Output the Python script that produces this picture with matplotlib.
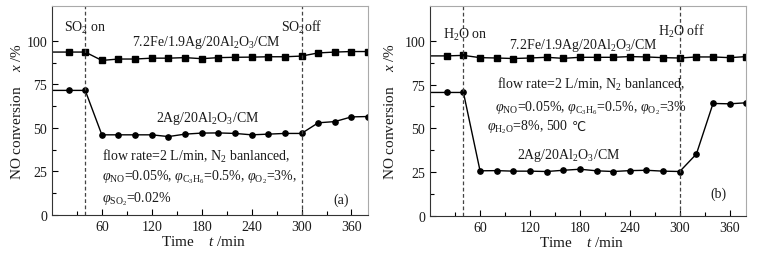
import numpy as np
import matplotlib
matplotlib.use('Agg')
import matplotlib.pyplot as plt

# Time axis, min
time = [0, 20, 40, 60, 80, 100, 120, 140, 160, 180, 200, 220, 240, 260, 280,
        300, 320, 340, 360, 380]

# (a) SO2 poisoning
fe_a = [93.5, 93.5, 93.5, 88.7, 89.5, 89.5, 90.0, 90.0, 90.3, 89.7, 90.3, 90.5,
        90.6, 90.8, 90.8, 91.2, 93.0, 93.5, 93.8, 93.8]
ag_a = [71.5, 71.5, 71.5, 46.0, 46.0, 46.0, 46.0, 45.0, 46.4, 47.0, 47.1, 46.8,
        46.0, 46.4, 46.8, 46.8, 52.9, 53.6, 56.3, 56.5]

# (b) H2O poisoning
fe_b = [91.4, 91.4, 91.7, 90.4, 90.2, 89.9, 90.2, 90.6, 90.0, 90.6, 90.6, 90.6,
        91.0, 90.8, 90.4, 90.2, 90.8, 90.8, 90.4, 91.0]
ag_b = [70.5, 70.5, 70.5, 25.7, 25.8, 25.5, 25.5, 25.3, 26.0, 26.6, 25.7, 25.3,
        25.8, 26.0, 25.5, 25.3, 35.3, 64.2, 64.0, 64.6]

switch_on = 40
switch_off = 300

plt.rcParams['font.family'] = ['Liberation Serif', 'DejaVu Sans']
plt.rcParams['mathtext.fontset'] = 'custom'
plt.rcParams['mathtext.rm'] = 'Liberation Serif'
plt.rcParams['mathtext.it'] = 'Liberation Serif:italic'
plt.rcParams['font.size'] = 10
txtc = '#1a1a1a'

fig = plt.figure(figsize=(7.75, 2.55), dpi=100)
axa = fig.add_axes([0.067, 0.153, 0.408, 0.820])
axb = fig.add_axes([0.555, 0.150, 0.408, 0.823])


def style_axis(ax, ylx):
    ax.set_xlim(0, 380)
    ax.set_ylim(0, 120)
    ax.set_xticks([60, 120, 180, 240, 300, 360])
    ax.set_xticks([30, 90, 150, 210, 270, 330], minor=True)
    ax.set_yticks([0, 25, 50, 75, 100])
    ax.set_yticks([12.5, 37.5, 62.5, 87.5], minor=True)
    ax.tick_params(which='both', direction='in', top=False, right=False,
                   labelcolor=txtc, width=0.8, labelsize=10)
    ax.tick_params(which='major', length=4)
    ax.tick_params(which='minor', length=3)
    for s in ['top', 'right']:
        ax.spines[s].set_color('#aaaaaa')
    for s in ['left', 'bottom']:
        ax.spines[s].set_color('#333333')
    ax.set_ylabel(r'NO conversion    $x$ /%', color=txtc, fontsize=11)
    ax.set_xlabel(r'Time    $t$ /min', color=txtc, fontsize=11)
    ax.yaxis.set_label_coords(ylx, 0.5)
    ax.xaxis.set_label_coords(0.48, -0.09)
    ax.axvline(switch_on, color='#444444', ls=(0, (3, 2)), lw=0.9)
    ax.axvline(switch_off, color='#444444', ls=(0, (3, 2)), lw=0.9)


for ax, fe, ag, ylx in [(axa, fe_a, ag_a, -0.088), (axb, fe_b, ag_b, -0.105)]:
    ax.plot(time, fe, color='black', lw=1.0, marker='s', ms=4.2,
            markevery=list(range(1, len(time))))
    ax.plot(time, ag, color='black', lw=1.0, marker='o', ms=3.8,
            markevery=list(range(1, len(time))))
    style_axis(ax, ylx)

# panel (a) texts
axa.text(40, 108, r'SO$_2$ on', ha='center', va='center', color=txtc)
axa.text(300, 108, r'SO$_2$off', ha='center', va='center', color=txtc)
axa.text(186, 99.5, r'7.2Fe/1.9Ag/20Al$_2$O$_3$/CM', ha='center', va='center', color=txtc)
axa.text(187, 56, r'2Ag/20Al$_2$O$_3$/CM', ha='center', va='center', color=txtc)
axa.text(60, 34, r'flow rate=2 L/min, N$_2$ banlanced,', ha='left', va='center', color=txtc)
axa.text(60, 22, r'$φ_{\rm NO}$=0.05%, $φ_{\rm C_3H_6}$=0.5%, $φ_{\rm O_2}$=3%,',
         ha='left', va='center', color=txtc)
axa.text(60, 9.5, r'$φ_{\rm SO_2}$=0.02%', ha='left', va='center', color=txtc)
axa.text(348, 9, '(a)', ha='center', va='center', color=txtc)

# panel (b) texts
axb.text(42, 104, r'H$_2$O on', ha='center', va='center', color=txtc)
axb.text(302, 106, r'H$_2$O off', ha='center', va='center', color=txtc)
axb.text(184, 98, r'7.2Fe/1.9Ag/20Al$_2$O$_3$/CM', ha='center', va='center', color=txtc)
axb.text(80, 75.5, r'flow rate=2 L/min, N$_2$ banlanced,', ha='left', va='center', color=txtc)
axb.text(78, 62, r'$φ_{\rm NO}$=0.05%, $φ_{\rm C_3H_6}$=0.5%, $φ_{\rm O_2}$=3%',
         ha='left', va='center', color=txtc)
tb = axb.text(68, 51, r'$φ_{\rm H_2O}$=8%, 500', ha='left', va='center', color=txtc)
axb.annotate('℃', xy=(1, 0.5), xycoords=tb, xytext=(3, 0), textcoords='offset points',
             ha='left', va='center', color=txtc, family=['Liberation Serif', 'DejaVu Sans'],
             fontsize=9)
axb.text(166, 35, r'2Ag/20Al$_2$O$_3$/CM', ha='center', va='center', color=txtc)
axb.text(347, 13, '(b)', ha='center', va='center', color=txtc)

fig.savefig('out.png', dpi=100)
